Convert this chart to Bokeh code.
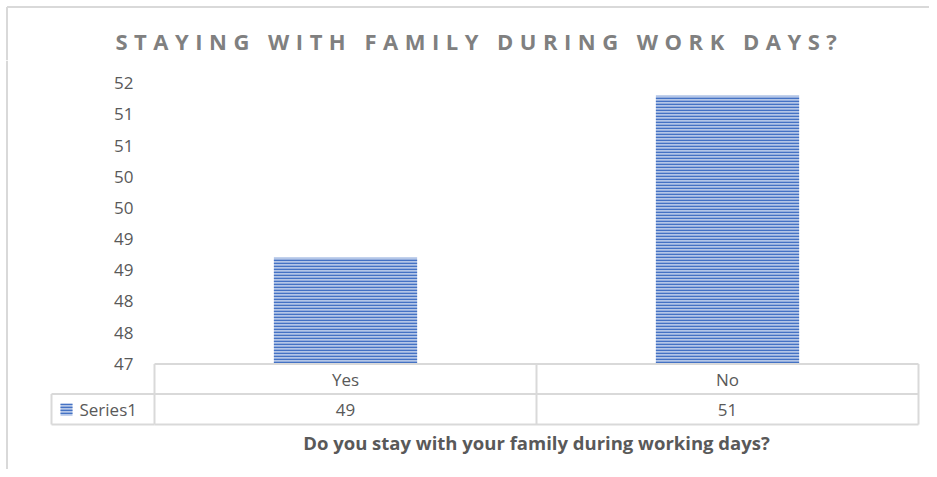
from bokeh.plotting import figure
from bokeh.models import Range1d, LinearAxis, FixedTicker
from bokeh.layouts import column
from bokeh.core.properties import value
from bokeh.embed import file_html
from bokeh.resources import INLINE

# ---------------- data ----------------
title_text = "STAYING WITH FAMILY DURING WORK DAYS?"
x_title = "Do you stay with your family during working days?"
categories = ["Yes", "No"]
series_name = "Series1"
series_values = [48.7, 51.3]
tick_values = [47, 47.5, 48, 48.5, 49, 49.5, 50, 50.5, 51, 51.5]
tick_labels = ["47", "48", "48", "49", "49", "50", "50", "51", "51", "52"]

# ---------------- style / layout ----------------
W = 929
TH = 60
H = 409
FONT = "Open Sans"
GRAY = "#595959"
TITLE_GRAY = "#808080"
BORDER = "#d9d9d9"
BLUE = "#4472C4"
LIGHT = "#b4c6e7"

X0 = 154      # px of plot-area left edge
CW = 382      # px per category
BASE = 303.3  # px of axis minimum (main figure)
PPU = 62.33   # px per value unit
ymin = tick_values[0]

# ---------------- title figure ----------------
t = figure(width=W, height=TH, x_range=Range1d(0, W), y_range=Range1d(TH, 0),
           output_backend="svg", toolbar_location=None,
           x_axis_type=None, y_axis_type=None, min_border=0,
           outline_line_color=None)
t.stylesheets = [":host { letter-spacing: 6.5px; }"]
t.segment(x0=[6.5, 6.5], y0=[6.5, 6.5], x1=[W, 6.5], y1=[6.5, TH],
          line_color=BORDER, line_width=2)
t.text(x=[115], y=[40.5], text=[title_text], text_font=value(FONT),
       text_font_size="22px", text_font_style="bold", text_color=TITLE_GRAY,
       text_align="left", text_baseline="middle")

# ---------------- main figure ----------------
n = len(categories)
p = figure(width=W, height=H,
           x_range=Range1d(-X0 / CW, (W - X0) / CW),
           y_range=Range1d(ymin - (H - BASE) / PPU, ymin + BASE / PPU),
           output_backend="svg", toolbar_location=None,
           x_axis_type=None, y_axis_type=None, min_border=0,
           outline_line_color=None)
p.extra_x_ranges = {"px": Range1d(0, W)}
p.extra_y_ranges = {"px": Range1d(H, 0)}

xs = [i + 0.5 for i in range(n)]
p.vbar(x=xs, top=series_values, bottom=ymin, width=0.375,
       fill_color=LIGHT, line_color=None,
       hatch_pattern="horizontal_line", hatch_color=BLUE,
       hatch_scale=3, hatch_weight=1.6)

# y axis
yaxis = LinearAxis(fixed_location=0,
                   ticker=FixedTicker(ticks=tick_values),
                   major_label_overrides={v: l for v, l in zip(tick_values, tick_labels)},
                   axis_line_color=None, major_tick_line_color=None,
                   minor_tick_line_color=None, major_tick_in=0, major_tick_out=0,
                   major_label_standoff=21, major_label_text_font=FONT,
                   major_label_text_font_size="17px",
                   major_label_text_color=GRAY)
p.add_layout(yaxis, "left")

# data table
ROW_TOP, ROW_MID, ROW_BOT = 303.5, 333.5, 364
LEG_LEFT = 51
p.segment(x0=[0, 0, 0], x1=[n, n, n], y0=[ROW_TOP, ROW_MID, ROW_BOT],
          y1=[ROW_TOP, ROW_MID, ROW_BOT], y_range_name="px",
          line_color=BORDER, line_width=2)
p.segment(x0=list(range(n + 1)), x1=list(range(n + 1)),
          y0=[ROW_TOP] * (n + 1), y1=[ROW_BOT] * (n + 1), y_range_name="px",
          line_color=BORDER, line_width=2)
p.segment(x0=[LEG_LEFT, LEG_LEFT, LEG_LEFT], x1=[X0, X0, LEG_LEFT],
          y0=[ROW_MID, ROW_BOT, ROW_MID], y1=[ROW_MID, ROW_BOT, ROW_BOT],
          x_range_name="px", y_range_name="px",
          line_color=BORDER, line_width=2)

p.text(x=xs, y=[318.5] * n, text=categories, y_range_name="px",
       text_font=value(FONT), text_font_size="17px", text_color=GRAY,
       text_align="center", text_baseline="middle")
p.text(x=xs, y=[349] * n, text=[f"{v:.0f}" for v in series_values],
       y_range_name="px", text_font=value(FONT), text_font_size="17px",
       text_color=GRAY, text_align="center", text_baseline="middle")
p.rect(x=[66], y=[349], width=12, height=12, x_range_name="px", y_range_name="px",
       fill_color=LIGHT, line_color=None, hatch_pattern="horizontal_line",
       hatch_color=BLUE, hatch_scale=3, hatch_weight=1.6)
p.text(x=[79], y=[349], text=[series_name], x_range_name="px", y_range_name="px",
       text_font=value(FONT), text_font_size="17px", text_color=GRAY,
       text_align="left", text_baseline="middle")

# axis title
p.text(x=[n / 2], y=[381.5], text=[x_title], y_range_name="px",
       text_font=value(FONT), text_font_size="18.5px", text_font_style="bold",
       text_color=GRAY, text_align="center", text_baseline="middle")

# chart border (left)
p.segment(x0=[6.5], x1=[6.5], y0=[0], y1=[H], x_range_name="px", y_range_name="px",
          line_color=BORDER, line_width=2)

layout = column(t, p, spacing=0)
open("out.html", "w").write(file_html(layout, INLINE))
